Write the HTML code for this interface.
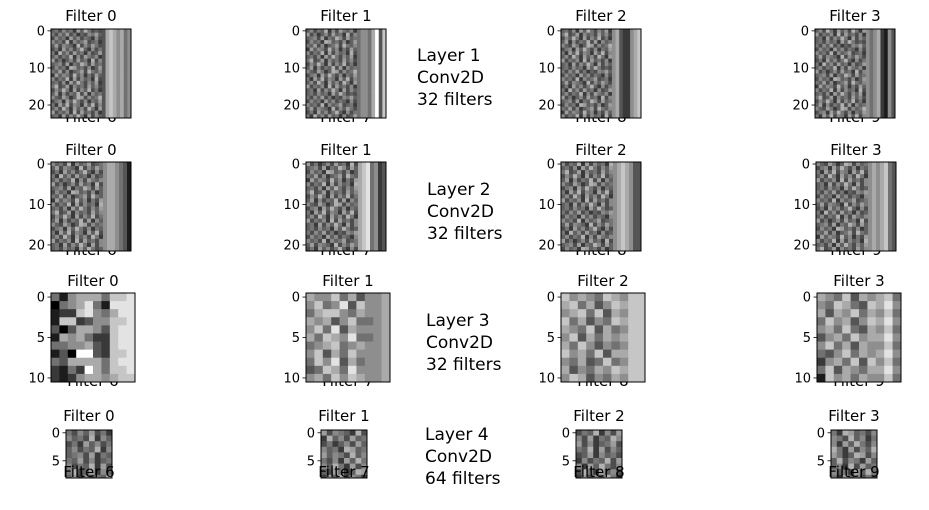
<!DOCTYPE html>
<html><head><meta charset="utf-8">
<style>
body{margin:0;background:#fff;}
svg{display:block;font-family:"DejaVu Sans","Liberation Sans",sans-serif;}
</style></head>
<body>
<svg id="fig" width="929" height="510" viewBox="0 0 929 510" xmlns="http://www.w3.org/2000/svg">
<rect width="929" height="510" fill="#fff"/>
<g id="layers"></g>
</svg>
<script>
// noise texture values (0 black .. 9 white), estimated
const noiseRows = [
"45364527485343","53647352436574","36452746354263","64538264573452",
"47365428364753","35274635842635","52846374526347","46354826375462",
"73524637452836","45637254863745","36452874536247","54736245738546",
"27465384625374","63548273645283","45362748536472","58347264537463",
"36485273648352","47263548372645","64375248736458","35627485362547",
"52748365274836","46385274638527","73546283745362","45273648527364"];
// right-hand column profiles per panel
const profilesL1 = ["36765645","45546937","56322567","54562153"];
const profilesL2 = ["5665431","6784523","5676533","5656743"];
const layer3F0 = ["4156664778","0456841888","1227854688","1772355778","3036653788",
"1656422788","4455632788","1309932778","4366664788","2142964778","2125665677"];
const layer3F1 = ["6557463556","5745837556","4677546556","6563574456","5748365556",
"6476584456","4567456556","5736475556","4758364556","3476485556","5647576556"];
const layer3F2 = ["7565476577","6746357677","5674736577","7463547677","6547364577",
"5736465677","6475354577","7564736677","5463474577","6354657677","5763546577"];
const layer3F3 = ["6547365674","5476437685","6365746574","4756357685","5647436574",
"3564756685","5746365574","4357465685","2564737574","4736546685","1756465574"];
const titlesTop = ["Filter 0","Filter 1","Filter 2","Filter 3"];
const titlesHidden = ["Filter 6","Filter 7","Filter 8","Filter 9"];
const layerText = [["Layer 1","Conv2D","32 filters"],["Layer 2","Conv2D","32 filters"],
                   ["Layer 3","Conv2D","32 filters"],["Layer 4","Conv2D","64 filters"]];

const NS="http://www.w3.org/2000/svg";
const root=document.getElementById('layers');
function mk(tag,attrs,parent){const e=document.createElementNS(NS,tag);for(const k in attrs)e.setAttribute(k,attrs[k]);(parent||root).appendChild(e);return e;}
function gray(v,soft){let f=v/9;if(soft)f=0.42+(f-0.5)*0.7;const g=Math.round(Math.max(0,Math.min(1,f))*255);return `rgb(${g},${g},${g})`;}

function buildGrid(rows,cols,panel,layerIdx){
  const out=[];
  for(let r=0;r<rows;r++){
    let s="";
    if(layerIdx===0){s=noiseRows[(r+panel*7)%24]+profilesL1[panel];}
    else if(layerIdx===1){s=noiseRows[(r+panel*5+3)%24].slice(0,13)+profilesL2[panel];}
    else if(layerIdx===2){s=[layer3F0,layer3F1,layer3F2,layer3F3][panel][r];}
    else {s=noiseRows[(r*2+panel*3+1)%24].slice(panel,panel+8);}
    out.push(s.split('').map(Number));
  }
  return out;
}

const panelsX=[[51,306,561,815],[51,306,561,816],[51,306,561,817],[66,321,576,831]];
const panelW=[80,80,84,46];
const panelTop=[29,162,293,430];
const rowsN=[24,22,11,9];
const colsN=[22,20,10,8];
const noiseCols=[14,13,0,8];
const tickVals=[[0,10,20],[0,10,20],[0,5,10],[0,5]];
const titleY=[21,155,286,421];
const layerX=[417,427,426,425];
const layerY=[61,195,326,440];

for(let L=0;L<4;L++){
  const ch=(L===3)?5.6:89/rowsN[L];
  for(let p=0;p<4;p++){
    const x0=panelsX[L][p],y0=panelTop[L],w=panelW[L],cw=w/colsN[L];
    const h=Math.min(rowsN[L]*ch,478-y0);
    const g=mk('g',{});
    
    
    if(L<3){
      const ht=mk('text',{x:x0+w/2,y:y0+h+4,'text-anchor':'middle','font-size':15,fill:'#000'},g);
      ht.textContent=titlesHidden[p];
      
      
    }
    const grid=buildGrid(rowsN[L],colsN[L],p,L);
    const clipId='c'+L+p;
    const cp=mk('clipPath',{id:clipId},g);mk('rect',{x:x0,y:y0,width:w,height:h},cp);
    const cg=mk('g',{'clip-path':`url(#${clipId})`},g);
    for(let r=0;r<rowsN[L];r++)for(let c=0;c<colsN[L];c++){
      const cell=mk('rect',{x:x0+c*cw,y:y0+r*ch,width:cw+0.4,height:ch+0.4,fill:gray(grid[r][c],c<noiseCols[L])},cg);
      
      
    }
    mk('rect',{x:x0,y:y0,width:w,height:h,fill:'none',stroke:'#000','stroke-width':1},g);
    if(L===3){const t2=mk('text',{x:x0+w/2,y:y0+h-1,'text-anchor':'middle','font-size':15,fill:'#000'},g);t2.textContent=titlesHidden[p];
      
      }
    const t=mk('text',{x:x0+w/2,y:titleY[L],'text-anchor':'middle','font-size':15,fill:'#000'},g);
    t.textContent=titlesTop[p];
    
    
    for(const tv of tickVals[L]){
      const ty=y0+(tv+0.5)*ch;
      mk('line',{x1:x0-3.5,x2:x0,y1:ty,y2:ty,stroke:'#000','stroke-width':0.8},g);
      const tl=mk('text',{x:x0-6,y:ty+4.5,'text-anchor':'end','font-size':13,fill:'#000'},g);
      tl.textContent=tv;
      
      
    }
  }
  const lt=mk('text',{x:layerX[L],y:layerY[L],'font-size':17,fill:'#000'});
  
  
  layerText[L].forEach((s,i)=>{const sp=mk('tspan',{x:layerX[L],dy:i?22:0},lt);sp.textContent=s;});
}
</script>
</body></html>
